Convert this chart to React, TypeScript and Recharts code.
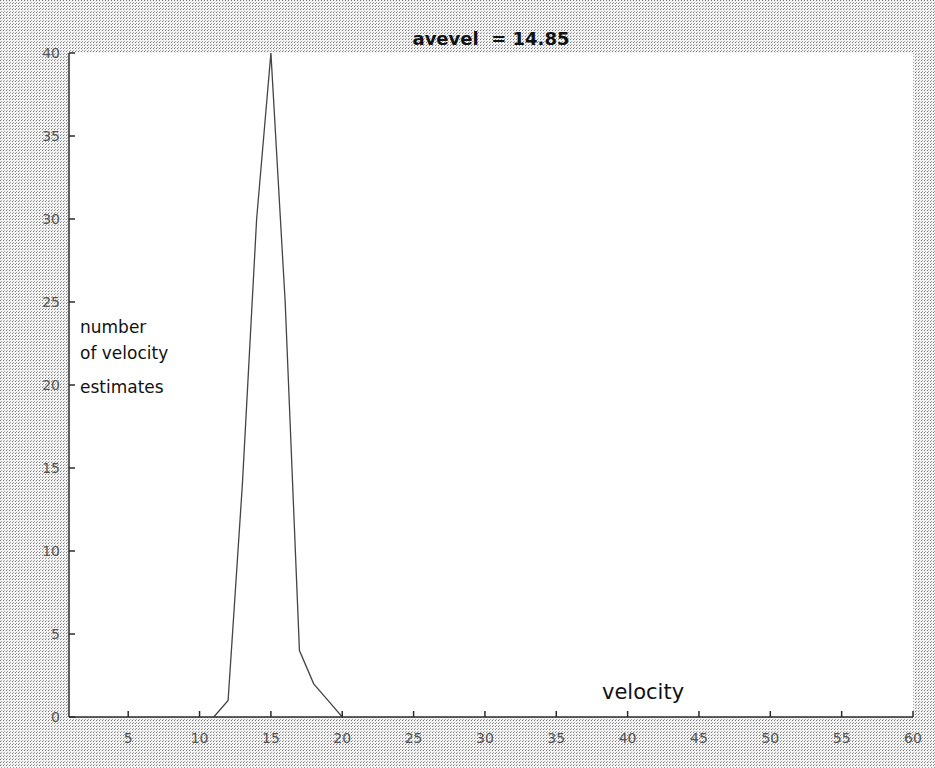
import React from 'react'
import {
    LineChart,
    Line,
    XAxis,
    YAxis,
    CartesianGrid
} from 'recharts'

// histogram of velocity estimates (bin centre -> count)
const velocity = [11, 12, 13, 14, 15, 16, 17, 18, 19, 20]
const counts = [0, 1, 14, 30, 40, 25, 4, 2, 1, 0]

const xTicks = [5, 10, 15, 20, 25, 30, 35, 40, 45, 50, 55, 60]
const yTicks = [0, 5, 10, 15, 20, 25, 30, 35, 40]

const yLabelLines = ['number', 'of velocity', 'estimates']

const data = velocity.map((v, i) => ({ v, n: counts[i] }))

const FONT = '"DejaVu Sans", Verdana, sans-serif'
const AXIS = '#2b2b2b'
const tickStyle = { fontSize: 14, fill: '#555', fontFamily: FONT }
const blank = () => ''

export default function App() {
    return (
        <div
            style={{
                position: 'absolute',
                top: 0,
                left: 0,
                width: 935,
                height: 768,
                backgroundColor: '#f3f3f3',
                // halftone-ish stipple around the axes box
                backgroundImage:
                    'conic-gradient(at 1px 1px, transparent 75%, #7a7a7a 0), conic-gradient(at 1px 1px, transparent 75%, #a8a8a8 0)',
                backgroundSize: '3px 3px, 3px 3px',
                backgroundPosition: '0 0, 1px 2px'
            }}
        >
            <LineChart
                width={935}
                height={768}
                data={data}
                margin={{ top: 53, right: 22, bottom: 0, left: 0 }}
            >
                <CartesianGrid horizontal={false} vertical={false} fill="#fff" fillOpacity={1} />
                <XAxis
                    dataKey="v"
                    type="number"
                    domain={[0.85, 60]}
                    ticks={xTicks}
                    height={51}
                    tickSize={-6}
                    tickMargin={22}
                    tick={tickStyle}
                    stroke={AXIS}
                    strokeWidth={1.5}
                    allowDataOverflow
                />
                <XAxis
                    xAxisId="top"
                    orientation="top"
                    type="number"
                    domain={[0.85, 60]}
                    ticks={xTicks}
                    height={0}
                    mirror
                    tickSize={6}
                    tickFormatter={blank}
                    stroke={AXIS}
                    strokeWidth={1.5}
                    allowDataOverflow
                />
                <YAxis
                    type="number"
                    domain={[0, 40]}
                    ticks={yTicks}
                    width={69}
                    tickSize={-6}
                    tickMargin={15}
                    tick={tickStyle}
                    stroke={AXIS}
                    strokeWidth={1.5}
                    allowDataOverflow
                />
                <YAxis
                    yAxisId="right"
                    orientation="right"
                    type="number"
                    domain={[0, 40]}
                    ticks={yTicks}
                    width={0}
                    mirror
                    tickSize={6}
                    tickFormatter={blank}
                    stroke={AXIS}
                    strokeWidth={1.5}
                    allowDataOverflow
                />
                <Line
                    type="linear"
                    dataKey="n"
                    stroke="#444"
                    strokeWidth={1.3}
                    dot={false}
                    isAnimationActive={false}
                />
            </LineChart>

            <svg
                width={935}
                height={768}
                style={{ position: 'absolute', top: 0, left: 0, pointerEvents: 'none' }}
            >
                <text x={491} y={45} textAnchor="middle" fontFamily={FONT} fontWeight="bold" fontSize={18} fill="#111" xmlSpace="preserve">
                    {'avevel  = 14.85'}
                </text>
                <text x={602} y={699} fontFamily={FONT} fontSize={21} fill="#111">
                    velocity
                </text>
                {yLabelLines.map((line, i) => (
                    <text key={line} x={80} y={[333, 359, 393][i]} fontFamily={FONT} fontSize={17} fill="#111">
                        {line}
                    </text>
                ))}
            </svg>
        </div>
    )
}
